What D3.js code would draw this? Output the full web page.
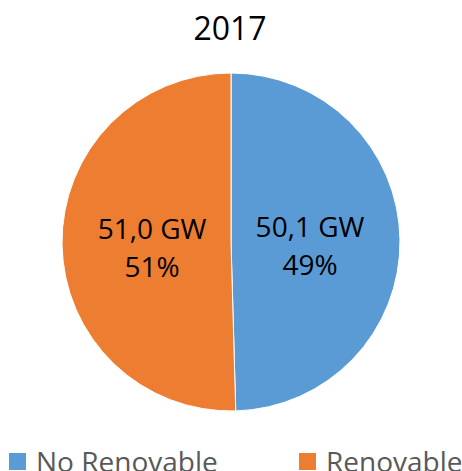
<!DOCTYPE html>
<html>
<head>
<meta charset="utf-8">
<script src="https://cdn.jsdelivr.net/npm/d3@7"></script>
<style>
  body { margin: 0; background: #fff; }
  text { font-family: "Open Sans", "Liberation Sans", sans-serif; }
</style>
</head>
<body>
<svg id="chart"></svg>
<script>
// Chart data
const categories = ["No Renovable", "Renovable"];
const values = [50.1, 51.0];
const valueLabels = ["50,1 GW", "51,0 GW"];
const percentLabels = ["49%", "51%"];
const colors = ["#5B9BD5", "#ED7D31"];
const title = "2017";

const width = 462, height = 471;
const cx = 231, cy = 242, radius = 169;

const svg = d3.select("#chart")
    .attr("width", width)
    .attr("height", height);

// Title
svg.append("text")
    .attr("x", cx - 1)
    .attr("y", 40)
    .attr("text-anchor", "middle")
    .attr("font-size", 32)
    .attr("fill", "#000")
    .text(title);

const pie = d3.pie().sort(null).value(d => d.value);
const arc = d3.arc().innerRadius(0).outerRadius(radius);
const labelArc = d3.arc().innerRadius(0).outerRadius(158);

const slices = pie(categories.map((c, i) => ({ name: c, value: values[i], i })));

const g = svg.append("g").attr("transform", `translate(${cx},${cy})`);

g.selectAll("path")
    .data(slices)
    .enter()
    .append("path")
    .attr("d", arc)
    .attr("fill", d => colors[d.data.i])
    .attr("stroke", "#fff")
    .attr("stroke-width", 1);

// Data labels: value + percent
const labels = g.selectAll("text.lbl")
    .data(slices)
    .enter()
    .append("text")
    .attr("class", "lbl")
    .attr("text-anchor", "middle")
    .attr("font-size", 28)
    .attr("fill", "#000")
    .attr("transform", d => {
        const [x, y] = labelArc.centroid(d);
        return `translate(${x},${y})`;
    });

labels.append("tspan")
    .attr("x", 0)
    .attr("y", -4)
    .text(d => valueLabels[d.data.i]);
labels.append("tspan")
    .attr("x", 0)
    .attr("y", 34)
    .text(d => percentLabels[d.data.i]);

// Legend
const legendX = [9, 299];
const legend = svg.selectAll("g.legend")
    .data(categories)
    .enter()
    .append("g")
    .attr("class", "legend")
    .attr("transform", (d, i) => `translate(${legendX[i]},453)`);

legend.append("rect")
    .attr("width", 17)
    .attr("height", 17)
    .attr("fill", (d, i) => colors[i]);

legend.append("text")
    .attr("x", 27)
    .attr("y", 19)
    .attr("font-size", 28)
    .attr("fill", "#595959")
    .text(d => d);
</script>
</body>
</html>
